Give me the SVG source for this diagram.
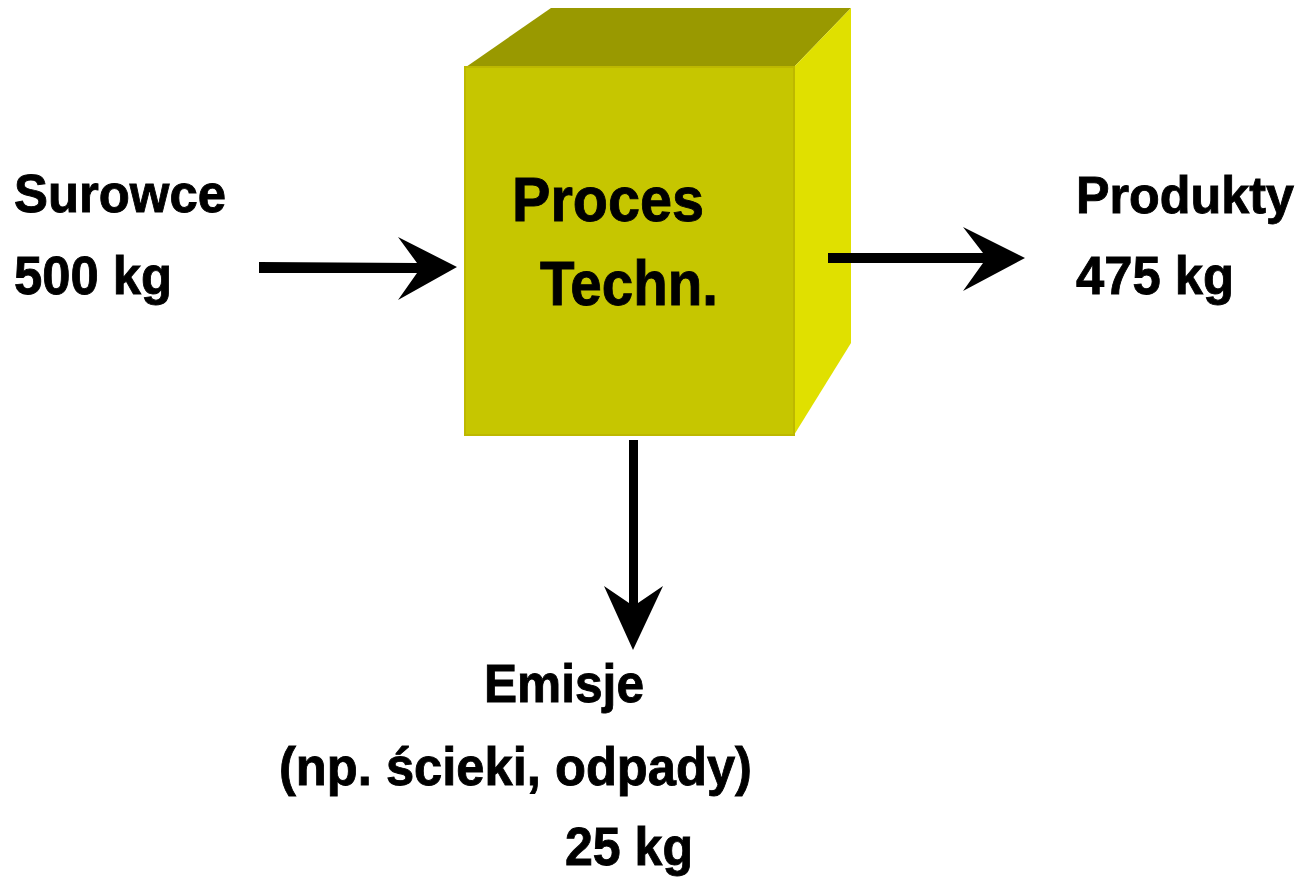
<svg xmlns="http://www.w3.org/2000/svg" width="1303" height="877" viewBox="0 0 1303 877">
<style>
.t{font-family:"Liberation Sans",Arial,sans-serif;font-weight:bold;fill:#000;stroke:#000;stroke-width:0.9px;font-size:54px}
.p{font-size:63px}
.q{font-size:52px}
.arr{fill:#000}
</style>
<rect width="1303" height="877" fill="#fff"/>
<g id="cube">
<polygon points="466,67 551,8 851,8 794,67" fill="#999900"/>
<polygon points="794,67 851,8 851,343 794,435" fill="#e0e000"/>
<rect x="465" y="67" width="329" height="368" fill="#c6c600" stroke="#bdb800" stroke-width="2"/>
<text class="t p" x="512" y="221" textLength="192" lengthAdjust="spacingAndGlyphs">Proces</text>
<text class="t p" x="540" y="305" textLength="178" lengthAdjust="spacingAndGlyphs">Techn.</text>
</g>
<g id="surowce">
<text class="t" x="14" y="212" textLength="212" lengthAdjust="spacingAndGlyphs">Surowce</text>
<text class="t" x="14" y="294" textLength="158" lengthAdjust="spacingAndGlyphs">500 kg</text>
</g>
<g id="produkty">
<text class="t q" x="1076" y="213" textLength="218" lengthAdjust="spacingAndGlyphs">Produkty</text>
<text class="t" x="1076" y="294" textLength="158" lengthAdjust="spacingAndGlyphs">475 kg</text>
</g>
<g id="emisje">
<text class="t" x="484" y="702" textLength="160" lengthAdjust="spacingAndGlyphs">Emisje</text>
<text class="t" x="279" y="785" textLength="473" lengthAdjust="spacingAndGlyphs">(np. ścieki, odpady)</text>
<text class="t" x="565" y="865" textLength="128" lengthAdjust="spacingAndGlyphs">25 kg</text>
</g>
<g id="connectors">
<polygon class="arr" points="259,262 417,263 398,237 457,267 398,300 417,273 259,273"/>
<polygon class="arr" points="828,253 983,253 963,227 1025,258 963,291 983,263 828,263"/>
<polygon class="arr" points="629,440 638,440 638,603 663,586 633,650 604,586 629,603"/>
</g>
</svg>
